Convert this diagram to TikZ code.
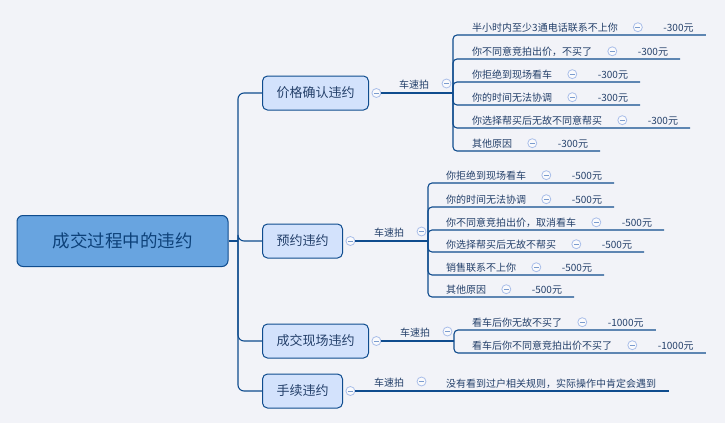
\documentclass[tikz,border=0pt]{standalone}
\usepackage{fontspec}
\setmainfont{Noto Sans CJK SC}
\usetikzlibrary{positioning, calc}
\definecolor{navy}{HTML}{0F4C8E}
\definecolor{rootblue}{HTML}{68A4E0}
\definecolor{paleblue}{HTML}{D3E2FC}
\definecolor{canvas}{HTML}{F2F3F8}
\definecolor{ink}{HTML}{24406A}
\definecolor{foldring}{HTML}{A9BEE9}

\tikzset{
    rootbox/.style = {rectangle, rounded corners = 6pt, draw = navy, line width = 1pt, fill = rootblue, text = navy!85!black, font = \fontsize{17.5}{20}\selectfont, minimum width = 211pt, minimum height = 51pt},
    topicbox/.style = {rectangle, rounded corners = 5pt, draw = navy, line width = 1pt, fill = paleblue, text = ink, font = \fontsize{13}{15}\selectfont, inner xsep = 14pt, minimum height = 34pt},
    item/.style = {inner sep = 0pt, text = ink, font = \fontsize{10}{12}\selectfont},
    fold/.style = {circle, draw = foldring, fill = white!60!canvas, line width = 0.8pt, minimum size = 9pt, inner sep = 0pt, path picture = {\draw [foldring!70!navy, line width = 0.8pt] ([xshift = -2.5pt] path picture bounding box.center) -- ([xshift = 2.5pt] path picture bounding box.center);}},
    branch/.style = {draw = navy, line width = 1.1pt, rounded corners = 4pt},
}

\begin{document}
\begin{tikzpicture}[x = 1pt, y = -1pt]
    \fill [canvas] (0, 0) rectangle (725, 423);
    \useasboundingbox (0, 0) rectangle (725, 423);

    \node (root) [rootbox] at (122.5, 241) {成交过程中的违约};
    \coordinate (spine) at (238, 241);

    \node (price) [topicbox, anchor = west] at (262, 93) {价格确认违约};
    \node (appt) [topicbox, anchor = west] at (262, 241) {预约违约};
    \node (onsite) [topicbox, anchor = west] at (262, 341) {成交现场违约};
    \node (transfer) [topicbox, anchor = west] at (262, 391) {手续违约};

    \draw [branch] (root.east) -- (spine);
    \foreach \t in {price, appt, onsite, transfer}
    {
        \draw [branch, rounded corners = 6pt] (spine) |- (\t.west);
    }

    \coordinate (priceh) at (453, 93);
    \coordinate (appth) at (428, 241);
    \coordinate (onsiteh) at (454, 341);
    \coordinate (transferh) at (428, 391);

    \foreach \t in {price, appt, onsite, transfer}
    {
        \node (\t f) [fold, right = 2.5pt of \t] {};
        \node (\t l) [item, anchor = base] at ($(\t h) + (-39, -5)$) {车速拍};
        \node (\t lf) [fold] at ($(\t h) + (-6.5, -9.5)$) {};
    }
    \draw [branch] (pricef) -- (priceh);
    \draw [branch] (apptf) -- (appth);
    \draw [branch] (onsitef) -- (onsiteh);

    \foreach \txt / \amt / \ul [count = \i] in {半小时内至少3通电话联系不上你/-300元/35, 你不同意竞拍出价，不买了/-300元/59, 你拒绝到现场看车/-300元/82, 你的时间无法协调/-300元/105, 你选择帮买后无故不同意帮买/-300元/128, 其他原因/-300元/151}
    {
        \node (pa\i) [item, anchor = base west] at (472, \ul - 4) {\txt};
        \node (paf\i) [fold, right = 15pt of pa\i] {};
        \node (pap\i) [item, anchor = base west] at ($(paf\i.east |- pa\i.base) + (20.5, 0)$) {\amt};
        \coordinate (pau\i) at ($(pap\i.base east) + (12, 4)$);
        \draw [branch] (priceh) |- (pau\i);
    }

    \foreach \txt / \amt / \ul [count = \i] in {你拒绝到现场看车/-500元/183, 你的时间无法协调/-500元/207, 你不同意竞拍出价，取消看车/-500元/230, 你选择帮买后无故不帮买/-500元/252, 销售联系不上你/-500元/275, 其他原因/-500元/297}
    {
        \node (aa\i) [item, anchor = base west] at (446, \ul - 4) {\txt};
        \node (aaf\i) [fold, right = 15pt of aa\i] {};
        \node (aap\i) [item, anchor = base west] at ($(aaf\i.east |- aa\i.base) + (20.5, 0)$) {\amt};
        \coordinate (aau\i) at ($(aap\i.base east) + (12, 4)$);
        \draw [branch] (appth) |- (aau\i);
    }

    \foreach \txt / \amt / \ul [count = \i] in {看车后你无故不买了/-1000元/330, 看车后你不同意竞拍出价不买了/-1000元/353}
    {
        \node (oa\i) [item, anchor = base west] at (472, \ul - 4) {\txt};
        \node (oaf\i) [fold, right = 15pt of oa\i] {};
        \node (oap\i) [item, anchor = base west] at ($(oaf\i.east |- oa\i.base) + (20.5, 0)$) {\amt};
        \coordinate (oau\i) at ($(oap\i.base east) + (12, 4)$);
        \draw [branch] (onsiteh) |- (oau\i);
    }

    \node (ta1) [item, anchor = base west] at (446, 387) {没有看到过户相关规则，实际操作中肯定会遇到};
    \coordinate (tau1) at ($(ta1.base east) + (13, 4)$);
    \draw [branch] (transferf) -- (transferf -| tau1);
\end{tikzpicture}
\end{document}
